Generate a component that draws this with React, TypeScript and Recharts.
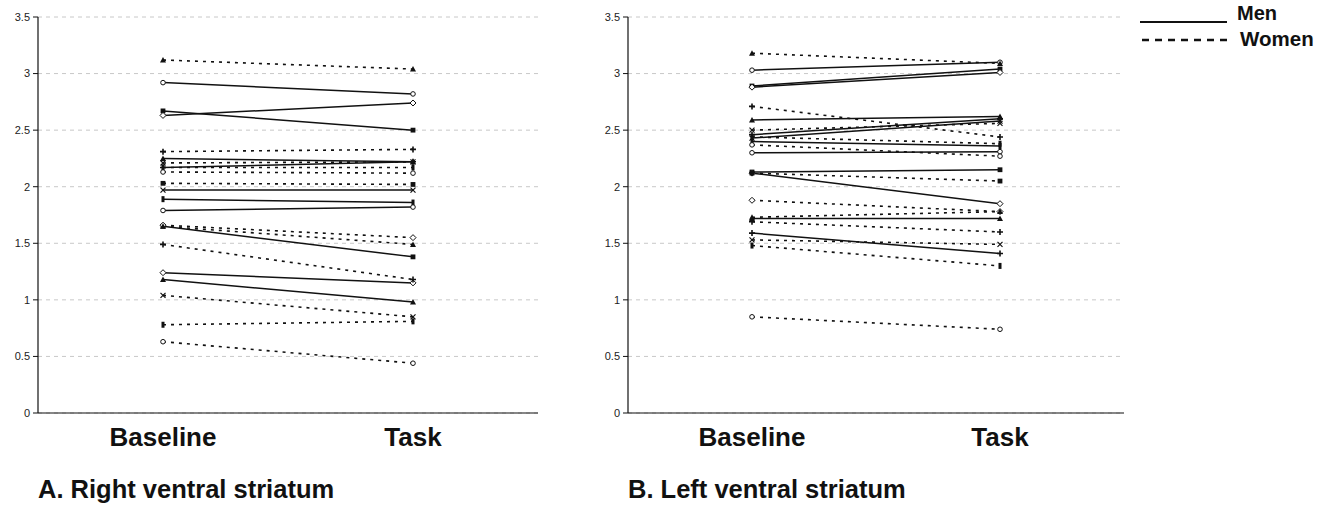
import React from 'react';
import { LineChart, Line, XAxis, YAxis, CartesianGrid } from 'recharts';

const phases = ['Baseline', 'Task'];
const yTicks = [0, 0.5, 1, 1.5, 2, 2.5, 3, 3.5];

// [baseline, task]
const rightMen = [
  [2.92, 2.82], [2.67, 2.5], [2.63, 2.74], [2.25, 2.22], [2.17, 2.22], [1.97, 1.97],
  [1.89, 1.86], [1.79, 1.82], [1.65, 1.38], [1.24, 1.15], [1.18, 0.98],
];
const rightWomen = [
  [3.12, 3.04], [2.31, 2.33], [2.21, 2.22], [2.17, 2.17], [2.13, 2.12], [2.03, 2.02],
  [1.66, 1.55], [1.65, 1.49], [1.49, 1.18], [1.04, 0.85], [0.78, 0.81], [0.63, 0.44],
];
const leftMen = [
  [3.03, 3.1], [2.89, 3.04], [2.88, 3.01], [2.59, 2.62], [2.46, 2.6], [2.43, 2.58],
  [2.4, 2.36], [2.3, 2.31], [2.13, 2.15], [2.12, 1.85], [1.72, 1.72], [1.59, 1.41],
];
const leftWomen = [
  [3.18, 3.09], [2.71, 2.44], [2.5, 2.56], [2.44, 2.38], [2.37, 2.27], [2.12, 2.05],
  [1.88, 1.78], [1.73, 1.78], [1.69, 1.6], [1.53, 1.49], [1.48, 1.3], [0.85, 0.74],
];

const panelTitles = ['A. Right ventral striatum', 'B. Left ventral striatum'];
const legendLabels = ['Men', 'Women'];

const shapes = ['circle', 'square', 'diamond', 'triangle', 'plus', 'cross', 'dash'];
const FONT = '"Liberation Sans", Arial, sans-serif';

function makeDot(shape: string) {
  return (p: any) => {
    const { cx, cy, index } = p;
    const k = `${shape}-${index}-${cx}-${cy}`;
    if (cx == null || cy == null) return <g key={k} />;
    const s = 2.4;
    switch (shape) {
      case 'circle':
        return <circle key={k} cx={cx} cy={cy} r={2.3} fill="#fff" stroke="#111" strokeWidth={1} />;
      case 'square':
        return <rect key={k} x={cx - s} y={cy - s} width={2 * s} height={2 * s} fill="#111" />;
      case 'diamond':
        return <path key={k} d={`M${cx},${cy - 3} L${cx + 3},${cy} L${cx},${cy + 3} L${cx - 3},${cy} Z`} fill="#fff" stroke="#111" strokeWidth={1} />;
      case 'triangle':
        return <path key={k} d={`M${cx},${cy - 3} L${cx + 3},${cy + 2.5} L${cx - 3},${cy + 2.5} Z`} fill="#111" />;
      case 'plus':
        return <path key={k} d={`M${cx - 3},${cy} L${cx + 3},${cy} M${cx},${cy - 3} L${cx},${cy + 3}`} stroke="#111" strokeWidth={1.6} />;
      case 'cross':
        return <path key={k} d={`M${cx - 2.5},${cy - 2.5} L${cx + 2.5},${cy + 2.5} M${cx - 2.5},${cy + 2.5} L${cx + 2.5},${cy - 2.5}`} stroke="#111" strokeWidth={1.2} />;
      default:
        return <rect key={k} x={cx - 1.5} y={cy - 3} width={3} height={6} fill="#111" />;
    }
  };
}

function buildRows(men: number[][], women: number[][]) {
  return phases.map((p, i) => {
    const row: any = { phase: p };
    men.forEach((v, k) => (row['m' + k] = v[i]));
    women.forEach((v, k) => (row['w' + k] = v[i]));
    return row;
  });
}

function Panel({ men, women, left, width, title }: any) {
  const rows = buildRows(men, women);
  return (
    <div style={{ position: 'absolute', left, top: 0 }}>
      <LineChart width={width} height={460} data={rows} margin={{ top: 17, right: 2, left: 0, bottom: 0 }}>
        <CartesianGrid vertical={false} stroke="#c8c8c8" strokeDasharray="4 4" />
        <XAxis
          dataKey="phase"
          scale="band"
          axisLine={{ stroke: '#111', strokeWidth: 1.2 }}
          tickLine={false}
          tickSize={6}
          tickMargin={9}
          height={47}
          tick={{ fontSize: 26, fontWeight: 'bold', fill: '#111', fontFamily: FONT }}
        />
        <YAxis
          width={38}
          domain={[0, 3.5]}
          ticks={yTicks}
          interval={0}
          axisLine={{ stroke: '#111', strokeWidth: 1.2 }}
          tickLine={{ stroke: '#111' }}
          tickSize={5}
          tickMargin={3}
          tick={{ fontSize: 11, fill: '#222', fontFamily: FONT }}
        />
        {men.map((_: any, k: number) => (
          <Line
            key={'m' + k}
            dataKey={'m' + k}
            type="linear"
            stroke="#111"
            strokeWidth={1.5}
            dot={makeDot(shapes[k % shapes.length])}
            activeDot={false}
            isAnimationActive={false}
          />
        ))}
        {women.map((_: any, k: number) => (
          <Line
            key={'w' + k}
            dataKey={'w' + k}
            type="linear"
            stroke="#111"
            strokeWidth={1.6}
            strokeDasharray="3 5"
            dot={makeDot(shapes[(k + 3) % shapes.length])}
            activeDot={false}
            isAnimationActive={false}
          />
        ))}
      </LineChart>
      <div
        style={{
          position: 'absolute',
          left: 38,
          top: 475,
          whiteSpace: 'nowrap',
          fontFamily: FONT,
          fontWeight: 'bold',
          fontSize: 25.5,
          color: '#111',
        }}
      >
        {title}
      </div>
    </div>
  );
}

function LegendBox() {
  return (
    <div style={{ position: 'absolute', left: 1130, top: 0, width: 205, height: 55 }}>
      <svg width={205} height={55}>
        <line x1={10} y1={22} x2={97} y2={22} stroke="#111" strokeWidth={2} />
        <line x1={12} y1={40} x2={97} y2={40} stroke="#111" strokeWidth={2.5} strokeDasharray="7 6" />
        <text x={107} y={20} fontFamily={FONT} fontWeight="bold" fontSize={20} fill="#111">
          {legendLabels[0]}
        </text>
        <text x={110} y={46} fontFamily={FONT} fontWeight="bold" fontSize={20.5} fill="#111">
          {legendLabels[1]}
        </text>
      </svg>
    </div>
  );
}

export default function App() {
  return (
    <div style={{ position: 'absolute', left: 0, top: 0, width: 1335, height: 509, background: '#fff', overflow: 'hidden' }}>
      <Panel men={rightMen} women={rightWomen} left={0} width={540} title={panelTitles[0]} />
      <Panel men={leftMen} women={leftWomen} left={590} width={536} title={panelTitles[1]} />
      <LegendBox />
    </div>
  );
}
